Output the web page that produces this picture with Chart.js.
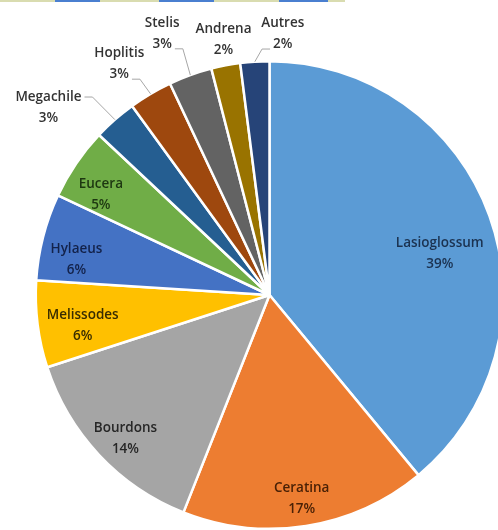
<!DOCTYPE html>
<html>
<head>
<meta charset="utf-8">
<script src="https://cdn.jsdelivr.net/npm/chart.js@4.4.1/dist/chart.umd.min.js"></script>
<style>
    html, body { margin: 0; padding: 0; background: #fff; overflow: hidden; }
    #wrap { position: relative; width: 506px; height: 530px; }
    #bande { position: absolute; left: 0; top: 0; width: 345px; height: 2px;
        background: linear-gradient(90deg, #d9dcb0 0 16%, #4a7fd0 16% 29%, #d9dcb0 29% 46%,
            #4a7fd0 46% 62%, #d9dcb0 62% 81%, #4a7fd0 81% 95%, #d9dcb0 95%); }
</style>
</head>
<body>
<div id="wrap"><canvas id="pie"></canvas><div id="bande"></div></div>
<script>
// genres d'abeilles, part en %
var genres = ['Lasioglossum', 'Ceratina', 'Bourdons', 'Melissodes', 'Hylaeus', 'Eucera',
    'Megachile', 'Hoplitis', 'Stelis', 'Andrena', 'Autres'];
var parts = [39, 17, 14, 6, 6, 5, 3, 3, 3, 2, 2];

var couleurs = ['#5B9BD5', '#ED7D31', '#A5A5A5', '#FFC000', '#4472C4', '#70AD47',
    '#255E91', '#9E480E', '#636363', '#997300', '#264478'];
var couleursTexte = ['#1b3250', '#4a2106', '#262626', '#382c00', '#13224a', '#1d3711',
    '#333333', '#333333', '#333333', '#333333', '#333333'];

// placement des etiquettes: decalage d'angle (deg) par rapport au milieu de la part, rayon relatif
var placement = [
    [6, 0.75], [0, 0.88], [-1.7, 0.87], [-2.2, 0.81], [-3.9, 0.84], [-3.4, 0.84],
    [-8.3, 1.24], [-2.4, 1.18], [-2.5, 1.21], [0.6, 1.11], [6.5, 1.12]
];
// trait de rappel: null = aucun, sinon index de la ligne de texte d'ou il part
var rappel = [null, null, null, null, null, null, 0, 1, 1, null, 1];

var etiquettes = {
    id: 'etiquettes',
    afterDatasetsDraw: function (chart) {
        var ctx = chart.ctx;
        var meta = chart.getDatasetMeta(0);
        ctx.save();
        ctx.font = '600 13.5px "Open Sans"';
        ctx.textAlign = 'center';
        ctx.textBaseline = 'middle';
        meta.data.forEach(function (arc, i) {
            var p = arc.getProps(['x', 'y', 'startAngle', 'endAngle', 'outerRadius'], true);
            var mid = (p.startAngle + p.endAngle) / 2;
            var a = mid + placement[i][0] * Math.PI / 180;
            var rr = p.outerRadius * placement[i][1];
            var cx = p.x + Math.cos(a) * rr;
            var cy = p.y + Math.sin(a) * rr;
            var lignes = [genres[i], parts[i] + '%'];
            var ys = [cy - 10.5, cy + 10.5];

            if (rappel[i] !== null) {
                var k = rappel[i];
                var w = ctx.measureText(lignes[k]).width / 2;
                var ex = p.x + Math.cos(mid) * p.outerRadius;
                var ey = p.y + Math.sin(mid) * p.outerRadius;
                var dir = ex > cx ? 1 : -1;
                var sx = cx + dir * (w + 3);
                var ly = ys[k] + (k === 1 ? 5 : 0);
                ctx.strokeStyle = '#a6a6a6';
                ctx.lineWidth = 1;
                ctx.beginPath();
                ctx.moveTo(sx, ly);
                ctx.lineTo(sx + dir * 8, ly);
                ctx.lineTo(ex, ey);
                ctx.stroke();
            }

            ctx.fillStyle = couleursTexte[i];
            ctx.fillText(lignes[0], cx, ys[0]);
            ctx.fillText(lignes[1], cx, ys[1]);
        });
        ctx.restore();
    }
};

new Chart(document.getElementById('pie'), {
    type: 'pie',
    data: {
        labels: genres,
        datasets: [{
            data: parts,
            backgroundColor: couleurs,
            borderColor: '#ffffff',
            borderWidth: 2.5
        }]
    },
    options: {
        responsive: true,
        maintainAspectRatio: false,
        animation: false,
        layout: {padding: {left: 33, top: 60, right: 0, bottom: 0}},
        plugins: {legend: {display: false}, tooltip: {enabled: false}}
    },
    plugins: [etiquettes]
});
</script>
</body>
</html>
